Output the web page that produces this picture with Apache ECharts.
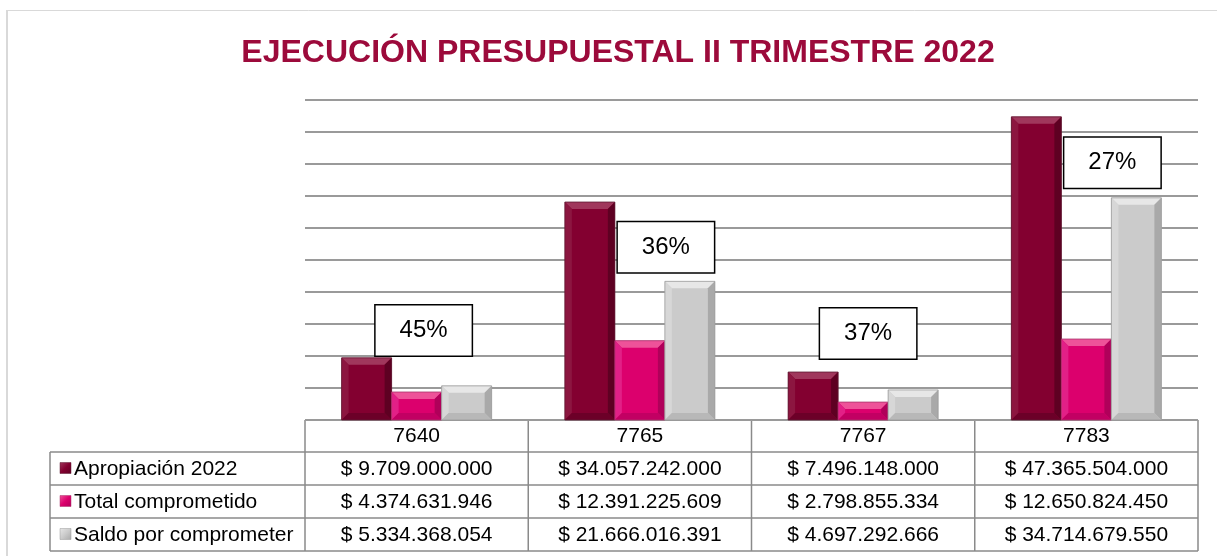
<!DOCTYPE html>
<html>
<head>
<meta charset="utf-8">
<title>Ejecución presupuestal II trimestre 2022</title>
<script src="https://cdn.jsdelivr.net/npm/echarts@6/dist/echarts.min.js"></script>
<style>
html,body{margin:0;padding:0;background:#fff;}
#chart{width:1217px;height:556px;}
</style>
</head>
<body>
<div id="chart"></div>
<script>
// datos
var categories = ['7640', '7765', '7767', '7783'];
var seriesNames = ['Apropiación 2022', 'Total comprometido', 'Saldo por comprometer'];
var apropiacion = [9709000000, 34057242000, 7496148000, 47365504000];
var comprometido = [4374631946, 12391225609, 2798855334, 12650824450];
var saldo = [5334368054, 21666016391, 4697292666, 34714679550];
var yTicks = [0, 5e9, 10e9, 15e9, 20e9, 25e9, 30e9, 35e9, 40e9, 45e9, 50e9];

var FONT = '"Liberation Sans", Arial, sans-serif';
var GRID_L = 305, GRID_R = 1198, GRID_T = 100, GRID_B = 420;
var TABLE_L = 50;
var HEAD_H = 32, ROW_H = 33;

// colores con bisel (base, arriba, izquierda, derecha, abajo)
var palette = [
    {base: '#830030', top: '#a0375c', left: '#8c1640', right: '#5e0022', bottom: '#6c0028', edge: '#5e1a32'},
    {base: '#dc006d', top: '#ee5299', left: '#e22087', right: '#b0005a', bottom: '#c20063', edge: '#a8326b'},
    {base: '#cbcbcb', top: '#e7e7e7', left: '#d7d7d7', right: '#a9a9a9', bottom: '#b8b8b8', edge: '#9a9a9a'}
];

function money(v) {
    return '$ ' + String(v).replace(/\B(?=(\d{3})+(?!\d))/g, '.');
}

//barra con bisel
function bevelBar(s) {
    return function (params, api) {
        var idx = api.value(0), val = api.value(1);
        var top = api.coord([idx, val]);
        var base = api.coord([idx, 0]);
        var bw = api.size([1, 0])[0] * 0.224;
        var x0 = top[0] - 1.5 * bw + s * bw, x1 = x0 + bw;
        var y0 = top[1], y1 = base[1];
        var b = Math.min(7, (y1 - y0) / 2, bw / 2);
        var c = palette[s];
        return {
            type: 'group',
            children: [
                {type: 'rect', shape: {x: x0, y: y0, width: bw, height: y1 - y0}, style: {fill: c.base}},
                {type: 'polygon', shape: {points: [[x0, y0], [x1, y0], [x1 - b, y0 + b], [x0 + b, y0 + b]]}, style: {fill: c.top}},
                {type: 'polygon', shape: {points: [[x0, y0], [x0 + b, y0 + b], [x0 + b, y1 - b], [x0, y1]]}, style: {fill: c.left}},
                {type: 'polygon', shape: {points: [[x1, y0], [x1, y1], [x1 - b, y1 - b], [x1 - b, y0 + b]]}, style: {fill: c.right}},
                {type: 'polygon', shape: {points: [[x0, y1], [x1, y1], [x1 - b, y1 - b], [x0 + b, y1 - b]]}, style: {fill: c.bottom}},
                {type: 'rect', shape: {x: x0, y: y0, width: bw, height: y1 - y0}, style: {fill: null, stroke: c.edge, lineWidth: 0.8}}
            ]
        };
    };
}

function pairs(arr) {
    return arr.map(function (v, i) { return [i, v]; });
}

// porcentaje comprometido / apropiación
var percents = comprometido.map(function (v, i) {
    return Math.round(v / apropiacion[i] * 100) + '%';
});
// ubicación de las cajas de porcentaje (altura en unidades del eje, desplazamiento x)
var boxHeights = [14.0e9, 27.0e9, 13.5e9, 40.2e9];
var boxShift = [7, 26, 5, 26];

//tabla de datos
function tableGraphics() {
    var els = [];
    var lineStyle = {stroke: '#8a8a8a', lineWidth: 1.5};
    var colW = (GRID_R - GRID_L) / categories.length;
    var rowsTop = GRID_B + HEAD_H;
    var bottom = rowsTop + ROW_H * 3;
    function line(x1, y1, x2, y2) {
        els.push({type: 'line', silent: true, shape: {x1: x1, y1: y1, x2: x2, y2: y2}, style: lineStyle});
    }
    line(GRID_L, GRID_B, GRID_R, GRID_B);
    for (var r = 0; r <= 3; r++) {
        line(TABLE_L, rowsTop + r * ROW_H, GRID_R, rowsTop + r * ROW_H);
    }
    line(TABLE_L, rowsTop, TABLE_L, bottom);
    for (var c = 0; c <= categories.length; c++) {
        line(GRID_L + c * colW, GRID_B, GRID_L + c * colW, bottom);
    }
    var rows = [apropiacion, comprometido, saldo];
    rows.forEach(function (vals, r) {
        var cy = rowsTop + r * ROW_H + ROW_H / 2;
        var c = palette[r];
        els.push({type: 'rect', silent: true, shape: {x: 60, y: cy - 6, width: 11, height: 11},
            style: {fill: new echarts.graphic.LinearGradient(0, 0, 1, 1, [{offset: 0, color: c.top}, {offset: 0.5, color: c.base}, {offset: 1, color: c.right}]), stroke: c.edge, lineWidth: 0.5}});
        els.push({type: 'text', silent: true, x: 74, y: cy + 1,
            style: {text: seriesNames[r], font: '21px ' + FONT, fill: '#000', align: 'left', verticalAlign: 'middle'}});
        vals.forEach(function (v, i) {
            els.push({type: 'text', silent: true, x: GRID_L + colW * (i + 0.5), y: cy + 1,
                style: {text: money(v), font: '21px ' + FONT, fill: '#000', align: 'center', verticalAlign: 'middle'}});
        });
    });
    // borde exterior
    els.push({type: 'line', silent: true, shape: {x1: 6, y1: 10.5, x2: 1217, y2: 10.5}, style: {stroke: '#d9d9d9', lineWidth: 1}});
    els.push({type: 'line', silent: true, shape: {x1: 7, y1: 10, x2: 7, y2: 556}, style: {stroke: '#d9d9d9', lineWidth: 2}});
    return els;
}

var myChart = echarts.init(document.getElementById('chart'));
var option = {
    animation: false,
    backgroundColor: '#fff',
    title: {
        text: 'EJECUCIÓN PRESUPUESTAL II TRIMESTRE 2022',
        left: 613,
        top: 32,
        textAlign: 'center',
        textStyle: {color: '#9c0a3b', fontSize: 32, fontWeight: 'bold', fontFamily: FONT}
    },
    grid: {left: GRID_L, right: 1217 - GRID_R, top: GRID_T, bottom: 556 - GRID_B},
    xAxis: {
        type: 'category',
        data: categories,
        axisLine: {show: false},
        axisTick: {show: false},
        axisLabel: {fontSize: 21, lineHeight: 21, margin: 6, color: '#000', fontFamily: FONT}
    },
    yAxis: {
        type: 'value',
        min: yTicks[0],
        max: yTicks[yTicks.length - 1],
        interval: yTicks[1] - yTicks[0],
        axisLabel: {show: false},
        axisLine: {show: false},
        axisTick: {show: false},
        splitLine: {show: true, lineStyle: {color: '#9a9a9a', width: 2}}
    },
    series: [
        {name: seriesNames[0], type: 'custom', renderItem: bevelBar(0), encode: {x: 0, y: 1}, data: pairs(apropiacion)},
        {name: seriesNames[1], type: 'custom', renderItem: bevelBar(1), encode: {x: 0, y: 1}, data: pairs(comprometido)},
        {name: seriesNames[2], type: 'custom', renderItem: bevelBar(2), encode: {x: 0, y: 1}, data: pairs(saldo)},
        {
            name: 'porcentaje',
            type: 'scatter',
            z: 10,
            symbolSize: 1,
            itemStyle: {color: 'rgba(0,0,0,0)', opacity: 1},
            data: boxHeights.map(function (h, i) {
                return {
                    value: [i, h],
                    label: {offset: [boxShift[i], 0]}
                };
            }),
            label: {
                show: true,
                position: 'inside',
                formatter: function (p) { return percents[p.dataIndex]; },
                fontSize: 24,
                fontFamily: FONT,
                color: '#000',
                backgroundColor: '#fff',
                borderColor: '#000',
                borderWidth: 1.5,
                width: 96,
                height: 50,
                lineHeight: 50,
                padding: 0,
                align: 'center',
                verticalAlign: 'middle'
            }
        }
    ],
    graphic: tableGraphics()
};
myChart.setOption(option);
</script>
</body>
</html>
